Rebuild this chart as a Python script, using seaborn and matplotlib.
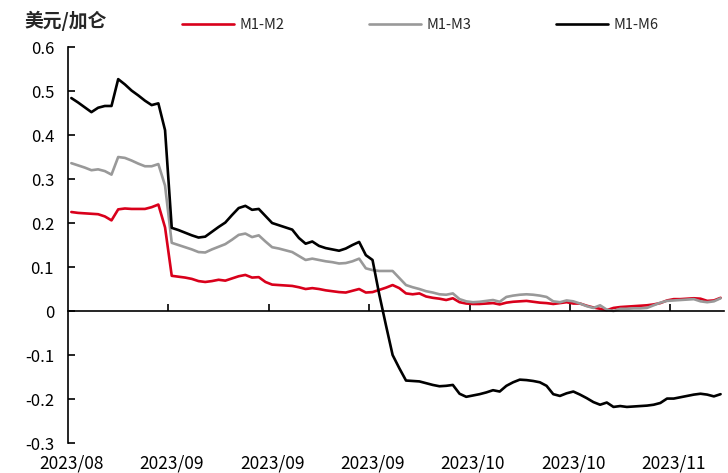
import numpy as np
import pandas as pd
import matplotlib
matplotlib.use("Agg")
import matplotlib.pyplot as plt
import seaborn as sns

# === Data (USD/gallon spreads) ===
m1_m2 = [0.225, 0.223, 0.222, 0.221, 0.220, 0.215, 0.206, 0.231, 0.233, 0.232,
         0.232, 0.232, 0.236, 0.242, 0.190, 0.080, 0.078, 0.076, 0.073, 0.068,
         0.066, 0.068, 0.071, 0.069, 0.074, 0.079, 0.082, 0.076, 0.077, 0.066,
         0.060, 0.059, 0.058, 0.057, 0.054, 0.050, 0.052, 0.050, 0.047, 0.045,
         0.043, 0.042, 0.046, 0.050, 0.042, 0.043, 0.048, 0.053, 0.059, 0.052,
         0.040, 0.038, 0.040, 0.033, 0.030, 0.028, 0.025, 0.029, 0.020, 0.017,
         0.016, 0.016, 0.017, 0.018, 0.015, 0.019, 0.021, 0.022, 0.023, 0.021,
         0.019, 0.018, 0.016, 0.018, 0.020, 0.017, 0.017, 0.012, 0.008, 0.005,
         0.002, 0.007, 0.009, 0.010, 0.011, 0.012, 0.013, 0.015, 0.018, 0.024,
         0.027, 0.027, 0.028, 0.029, 0.028, 0.023, 0.024, 0.030]

m1_m3 = [0.336, 0.331, 0.326, 0.320, 0.322, 0.318, 0.310, 0.350, 0.348, 0.342,
         0.335, 0.329, 0.329, 0.334, 0.285, 0.155, 0.150, 0.145, 0.140, 0.134,
         0.133, 0.140, 0.146, 0.152, 0.162, 0.173, 0.176, 0.168, 0.172, 0.158,
         0.145, 0.142, 0.138, 0.134, 0.125, 0.116, 0.119, 0.116, 0.113, 0.111,
         0.108, 0.109, 0.113, 0.119, 0.097, 0.093, 0.091, 0.091, 0.091, 0.075,
         0.059, 0.054, 0.050, 0.045, 0.042, 0.038, 0.037, 0.040, 0.027, 0.022,
         0.020, 0.021, 0.023, 0.025, 0.021, 0.032, 0.035, 0.037, 0.038, 0.037,
         0.035, 0.032, 0.022, 0.020, 0.024, 0.022, 0.017, 0.011, 0.007, 0.013,
         0.003, 0.000, 0.005, 0.005, 0.006, 0.006, 0.007, 0.013, 0.019, 0.023,
         0.024, 0.025, 0.026, 0.027, 0.022, 0.020, 0.022, 0.029]

m1_m6 = [0.484, 0.474, 0.463, 0.452, 0.462, 0.466, 0.466, 0.527, 0.515, 0.501,
         0.490, 0.478, 0.468, 0.472, 0.411, 0.189, 0.184, 0.178, 0.172, 0.167,
         0.169, 0.180, 0.191, 0.201, 0.218, 0.234, 0.239, 0.230, 0.232, 0.216,
         0.200, 0.195, 0.190, 0.185, 0.166, 0.153, 0.158, 0.148, 0.143, 0.140,
         0.137, 0.142, 0.150, 0.157, 0.127, 0.116, 0.038, -0.032, -0.100, -0.130,
         -0.158, -0.159, -0.160, -0.164, -0.168, -0.171, -0.170, -0.168, -0.188, -0.195,
         -0.192, -0.189, -0.185, -0.180, -0.183, -0.170, -0.162, -0.156, -0.157, -0.159,
         -0.162, -0.170, -0.189, -0.193, -0.187, -0.183, -0.190, -0.198, -0.207, -0.213,
         -0.208, -0.218, -0.216, -0.218, -0.217, -0.216, -0.215, -0.213, -0.209, -0.199,
         -0.199, -0.196, -0.193, -0.190, -0.188, -0.190, -0.194, -0.189]

series_names = ["M1-M2", "M1-M3", "M1-M6"]
series_colors = ["#D9001B", "#999999", "#000000"]
tick_labels = ["2023/08", "2023/09", "2023/09", "2023/09", "2023/10", "2023/10", "2023/11"]
label_every = 15

# === Style ===
sns.set_theme(style="white")
plt.rcParams["font.family"] = ["Noto Sans CJK SC", "DejaVu Sans"]
plt.rcParams["axes.unicode_minus"] = False

# === Long-form table ===
n = len(m1_m6)
df = pd.DataFrame({"idx": np.arange(n), "M1-M2": m1_m2, "M1-M3": m1_m3, "M1-M6": m1_m6})
long_df = df.melt(id_vars="idx", var_name="spread", value_name="value")

# === Plot ===
fig = plt.figure(figsize=(7.28, 4.73), dpi=100)
ax = fig.add_axes([0.0934, 0.0634, 0.901, 0.8372])
sns.lineplot(data=long_df, x="idx", y="value", hue="spread", hue_order=series_names,
             palette=series_colors, linewidth=1.9, ax=ax)

handles, labels = ax.get_legend_handles_labels()
ax.get_legend().remove()
fig.legend(handles, labels, ncol=3, loc="center", bbox_to_anchor=(0.577, 0.947),
           frameon=False, handlelength=3.6, columnspacing=5.8, handletextpad=0.35,
           fontsize=10.5)

# === Axes ===
ax.set_xlim(-0.5, n - 0.5)
ax.set_ylim(-0.3, 0.6)
yticks = np.round(np.arange(-0.3, 0.61, 0.1), 1)
ax.set_yticks(yticks)
ax.set_yticklabels(["0" if v == 0 else f"{v:.1f}" for v in yticks], fontsize=12)
ax.set_xticks(np.arange(label_every - 0.5, n, label_every))
ax.tick_params(axis="x", bottom=True, direction="in", length=5, width=1.2,
               color="black", labelbottom=False)
ax.tick_params(axis="y", left=True, direction="in", length=5, width=1.2,
               color="black", pad=10, labelcolor="black")
ax.set_xlabel("")
ax.set_ylabel("")

for side in ["top", "right"]:
    ax.spines[side].set_visible(False)
ax.spines["bottom"].set_position(("data", 0))
ax.spines["bottom"].set_color("black")
ax.spines["bottom"].set_linewidth(1.2)
ax.spines["left"].set_color("black")
ax.spines["left"].set_linewidth(1.2)

# date labels sit below the plot, not at the zero line
sec = ax.secondary_xaxis("bottom")
sec.set_xticks(np.arange(0, n, label_every), tick_labels)
sec.tick_params(bottom=False, length=0, pad=8, labelsize=12.5, labelcolor="black")
sec.spines["bottom"].set_visible(False)

fig.text(0.034, 0.955, "美元/加仑", fontsize=13.5, fontweight="bold", va="center")

fig.savefig("out.png", dpi=100)
